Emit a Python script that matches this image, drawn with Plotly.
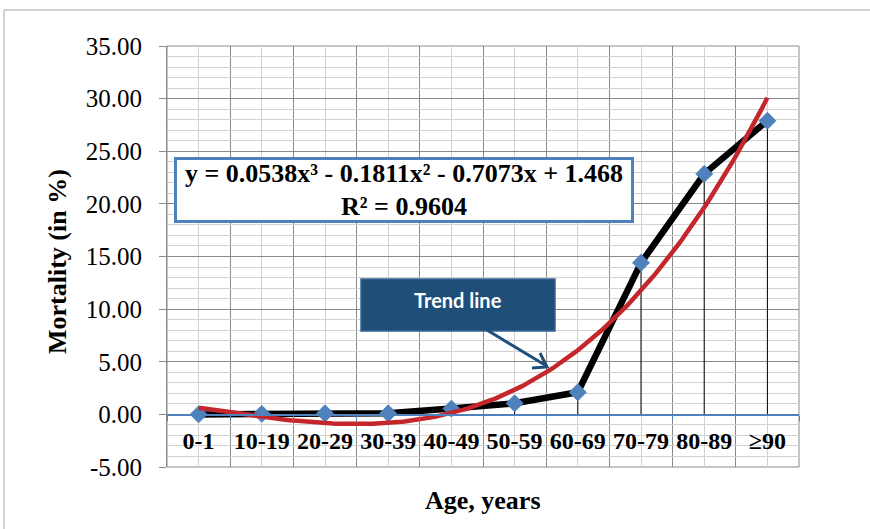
import numpy as np
import plotly.graph_objects as go

# ---- data ----
categories = ["0-1", "10-19", "20-29", "30-39", "40-49", "50-59", "60-69", "70-79", "80-89", "≥90"]
mortality = [0.00, 0.05, 0.10, 0.10, 0.55, 1.05, 2.10, 14.40, 22.85, 27.90]
trend_coeffs = [0.0538, -0.1811, -0.7073, 1.468]   # y = a x^3 + b x^2 + c x + d (from chart)
equation_text = "y = 0.0538x³ - 0.1811x² - 0.7073x + 1.468"
r2_text = "R² = 0.9604"
y_ticks = [-5, 0, 5, 10, 15, 20, 25, 30, 35]
y_tick_labels = [f"{v:.2f}" for v in y_ticks]

# ---- geometry helpers (page pixels; body margin removed) ----
W_FIG, H_FIG = 870, 529
L, R, T, B = 167, 799, 46, 467          # plot area in page pixels
PW, PH = R - L, B - T


def px(x):
    return (x - L) / PW


def py(y):
    return (B - y) / PH


xpos = list(range(1, len(categories) + 1))

SERIF = "Liberation Serif"
BLUE = "#4F81BD"
DARKGRID = "#8a8a8a"
LIGHTGRID = "#d2d2d2"
RED = "#C4262C"
NAVY = "#1F4E79"

fig = go.Figure()

# drop lines
dx, dy = [], []
for xi, yi in zip(xpos, mortality):
    dx += [xi, xi, None]
    dy += [0, yi, None]
fig.add_trace(go.Scatter(x=dx, y=dy, mode="lines", line=dict(color="black", width=1),
                         hoverinfo="skip", showlegend=False))

# data series
fig.add_trace(go.Scatter(x=xpos, y=mortality, mode="lines+markers",
                         line=dict(color="black", width=6.5),
                         marker=dict(symbol="diamond", size=13, color=BLUE,
                                     line=dict(color=BLUE, width=1)),
                         showlegend=False))

# trend line from chart's polynomial
xt = np.linspace(1, len(categories), 200)
yt = np.polyval(trend_coeffs, xt)
fig.add_trace(go.Scatter(x=xt, y=yt, mode="lines", line=dict(color=RED, width=4.5),
                         hoverinfo="skip", showlegend=False))

fig.update_layout(
    width=W_FIG, height=H_FIG,
    margin=dict(l=L, r=W_FIG - R, t=T, b=H_FIG - B, pad=0),
    paper_bgcolor="white", plot_bgcolor="white",
    showlegend=False,
    xaxis=dict(
        range=[0.5, len(categories) + 0.5],
        tickmode="array", tickvals=xpos,
        ticktext=[f"<b>{c}</b>" for c in categories],
        tickfont=dict(family=SERIF, size=24, color="black"),
        ticks="", ticklabelstandoff=4,
        showgrid=True, gridcolor=LIGHTGRID, gridwidth=1,
        minor=dict(tick0=0.5, dtick=1, showgrid=True, gridcolor=DARKGRID, gridwidth=1,
                   ticks="outside", ticklen=5, tickcolor=BLUE),
        showline=True, linecolor=BLUE, linewidth=1.5,
        anchor="free", position=5 / 40,
        zeroline=False, fixedrange=True,
    ),
    yaxis=dict(
        range=[-5, 35], tickmode="array", tickvals=y_ticks, ticktext=y_tick_labels,
        tickfont=dict(family=SERIF, size=25, color="black"),
        ticks="outside", ticklen=7, tickcolor=DARKGRID, ticklabelstandoff=12,
        showgrid=True, gridcolor=DARKGRID, gridwidth=1,
        minor=dict(tick0=0, dtick=1, showgrid=True, gridcolor=LIGHTGRID, gridwidth=1),
        showline=True, linecolor=DARKGRID, linewidth=1,
        zeroline=False, fixedrange=True,
    ),
)

shapes = [
    # outer chart frame
    dict(type="rect", xref="paper", yref="paper", x0=px(4), y0=py(560), x1=px(900), y1=py(10),
         line=dict(color="#a6a6a6", width=1), layer="below"),
    # plot-area border
    dict(type="rect", xref="paper", yref="paper", x0=0, y0=0, x1=1, y1=1,
         line=dict(color=DARKGRID, width=1), layer="below"),
    # trend line callout box
    dict(type="rect", xref="paper", yref="paper", x0=px(361), y0=py(331), x1=px(555), y1=py(279),
         fillcolor=NAVY, line=dict(color="#3a6494", width=1.5), layer="above"),
    # arrow shaft
    dict(type="line", xref="paper", yref="paper", x0=px(487), y0=py(330), x1=px(545), y1=py(365),
         line=dict(color=NAVY, width=3), layer="above"),
    # arrow head (open V)
    dict(type="path", xref="paper", yref="paper",
         path=f"M {px(532)} {py(368)} L {px(547)} {py(367)} L {px(540)} {py(353)}",
         line=dict(color=NAVY, width=3), layer="above"),
]
fig.update_layout(shapes=shapes)

annotations = [
    # equation box
    dict(xref="paper", yref="paper", x=px(404), y=py(190), xanchor="center", yanchor="middle",
         text=f"<b>{equation_text}</b><br><b>{r2_text}</b>", showarrow=False,
         font=dict(family=SERIF, size=26, color="black"), align="center",
         bgcolor="white", bordercolor=BLUE, borderwidth=3, borderpad=1,
         width=452, height=58),
    # callout text
    dict(xref="paper", yref="paper", x=px(458), y=py(300), xanchor="center", yanchor="middle",
         text="<b>Trend line</b>", showarrow=False,
         font=dict(family="Lato", size=20, color="white")),
    # axis titles
    dict(xref="paper", yref="paper", x=px(483), y=py(500), xanchor="center", yanchor="middle",
         text="<b>Age, years</b>", showarrow=False,
         font=dict(family=SERIF, size=26, color="black")),
    dict(xref="paper", yref="paper", x=px(57), y=py(261), xanchor="center", yanchor="middle",
         text="<b>Mortality (in %)</b>", showarrow=False, textangle=-90,
         font=dict(family=SERIF, size=26, color="black")),
]
fig.update_layout(annotations=annotations)

fig.write_html("out.html",
               config={"displayModeBar": False, "staticPlot": True},
               post_script="document.body.style.margin='0';document.body.style.overflow='hidden';")
